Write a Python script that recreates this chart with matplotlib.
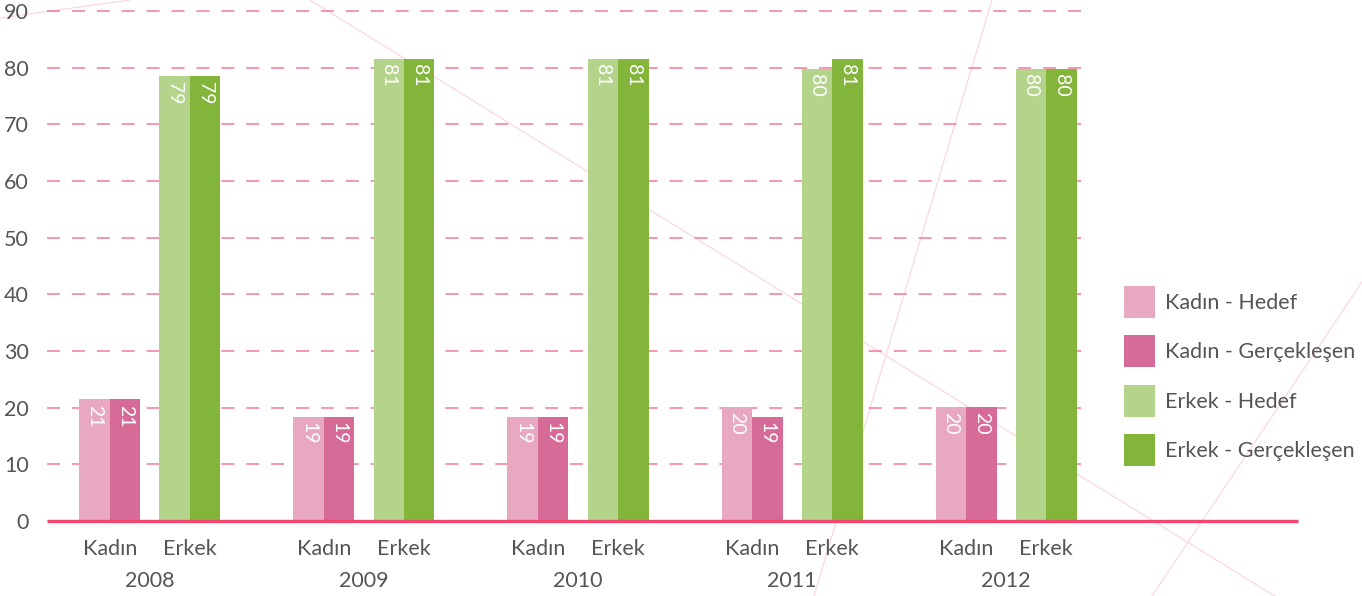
import numpy as np
import matplotlib.pyplot as plt
from matplotlib.patches import Patch
from matplotlib.lines import Line2D

plt.rcParams['font.family'] = ['Lato', 'DejaVu Sans']

# data (percent)
years = ['2008', '2009', '2010', '2011', '2012']
kadin_hedef = [21.5, 18.4, 18.4, 20.2, 20.2]
kadin_gercek = [21.5, 18.4, 18.4, 18.4, 20.2]
erkek_hedef = [78.5, 81.6, 81.6, 79.8, 79.8]
erkek_gercek = [78.5, 81.6, 81.6, 81.6, 79.8]
kadin_hedef_lbl = ['21', '19', '19', '20', '20']
kadin_gercek_lbl = ['21', '19', '19', '19', '20']
erkek_hedef_lbl = ['79', '81', '81', '80', '80']
erkek_gercek_lbl = ['79', '81', '81', '81', '80']
legend_labels = ['Kadın - Hedef', 'Kadın - Gerçekleşen', 'Erkek - Hedef', 'Erkek - Gerçekleşen']
yticks = [0, 10, 20, 30, 40, 50, 60, 70, 80, 90]

colors = ['#e8a8c1', '#d76b98', '#b5d48b', '#83b53b']
grid_col = '#f27a98'
base_col = '#f2476f'
text_col = '#555555'

fig = plt.figure(figsize=(13.62, 5.96), dpi=100)

# decorative background lines (figure fraction)
W, H = 1362., 596.
deco = [((0, 18), (130, 0)),
        ((310, 0), (1362, 650)),
        ((992, 0), (814, 596)),
        ((1362, 282), (1152, 596))]
for (x0, y0), (x1, y1) in deco:
    fig.add_artist(Line2D([x0 / W, x1 / W], [1 - y0 / H, 1 - y1 / H],
                          color='#fad3dd', lw=0.8, zorder=0))

ax = fig.add_axes([47 / W, 1 - 521 / H, (1298 - 47) / W, (521 - 11) / H])
ax.patch.set_alpha(0)

x = np.arange(len(years))
w = 0.1425
off = 0.187
xmin, xmax = -0.481, 5.364
grid_end = 4.383

for yv in yticks[1:]:
    ax.plot([xmin, grid_end], [yv, yv], color=grid_col, lw=1.1,
            dashes=(8.5, 7.8), zorder=1, clip_on=False)
ax.plot([xmin, xmax], [0, 0], color=base_col, lw=2.4, zorder=3,
        solid_capstyle='butt', clip_on=False)

series = [(x - off - w / 2, kadin_hedef, kadin_hedef_lbl),
          (x - off + w / 2, kadin_gercek, kadin_gercek_lbl),
          (x + off - w / 2, erkek_hedef, erkek_hedef_lbl),
          (x + off + w / 2, erkek_gercek, erkek_gercek_lbl)]
for (xs, vals, lbls), c in zip(series, colors):
    ax.bar(xs, vals, width=w, color=c, zorder=2, linewidth=0)
    for xi, v, l in zip(xs, vals, lbls):
        ax.text(xi, v - 1.0, l, rotation=270, ha='center', va='top',
                color='white', fontsize=14, zorder=4)

ax.set_xlim(xmin, xmax)
ax.set_ylim(0, 90)
ax.set_yticks(yticks)
ax.set_xticks([])
ax.tick_params(axis='y', length=0, pad=13, labelsize=15.5, labelcolor=text_col)
for s in ax.spines.values():
    s.set_visible(False)

for xi, yr in zip(x, years):
    ax.text(xi - off, -5.0, 'Kadın', ha='center', va='center', fontsize=15.5,
            color=text_col)
    ax.text(xi + off, -5.0, 'Erkek', ha='center', va='center', fontsize=15.5,
            color=text_col)
    ax.text(xi, -10.6, yr, ha='center', va='center', fontsize=15.5,
            color=text_col)

handles = [Patch(facecolor=c, edgecolor='none') for c in colors]
ax.legend(handles, legend_labels, loc='center left',
          bbox_to_anchor=((1124 - 47) / (1298 - 47), (521 - 376) / 510),
          frameon=False, fontsize=15.5, handlelength=1.45, handleheight=1.9,
          labelspacing=0.82, handletextpad=0.45, labelcolor=text_col,
          borderaxespad=0, borderpad=0)

fig.savefig('out.png', dpi=100)
